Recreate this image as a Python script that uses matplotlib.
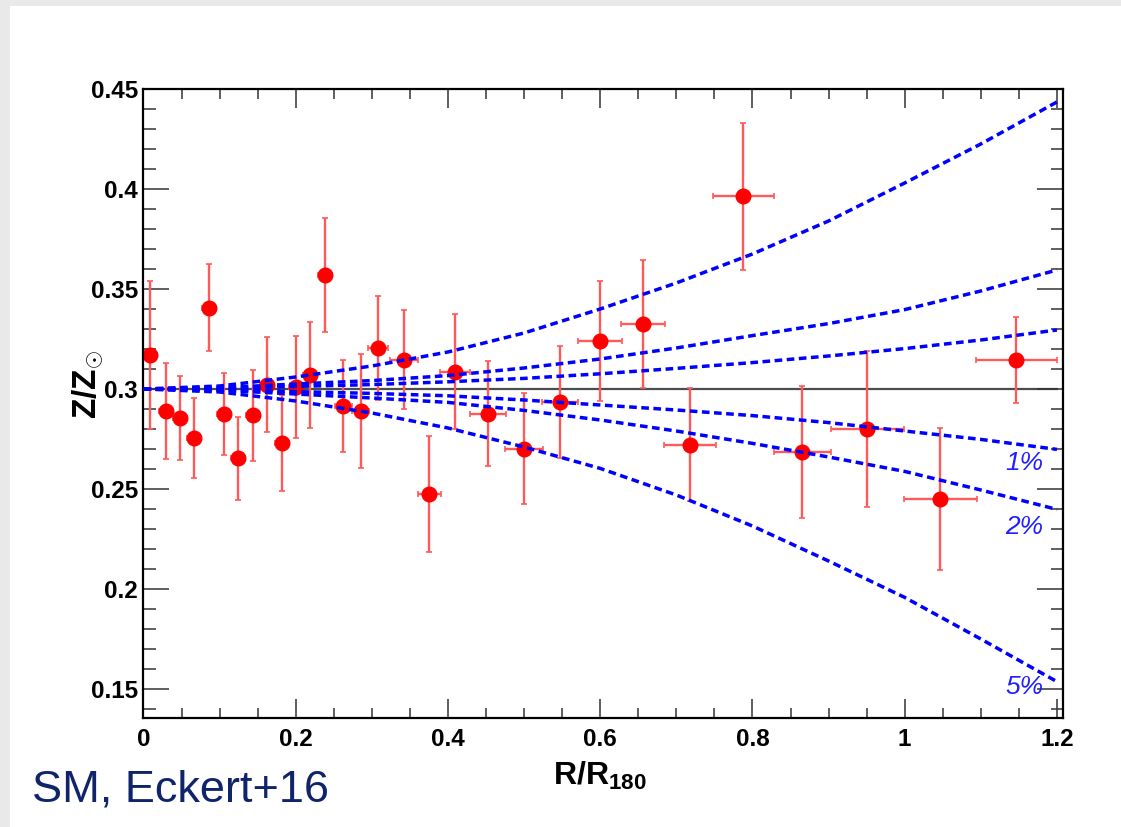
import matplotlib
matplotlib.use("Agg")
import matplotlib.pyplot as plt
from matplotlib.ticker import MultipleLocator
from matplotlib.patches import Rectangle

plt.rcParams["font.family"] = ["Liberation Sans", "DejaVu Sans"]
plt.rcParams["mathtext.fontset"] = "custom"
plt.rcParams["mathtext.rm"] = "Liberation Sans"
plt.rcParams["mathtext.bf"] = "Liberation Sans:bold"
plt.rcParams["mathtext.it"] = "Liberation Sans:italic"

# Профиль металличности (точки)
r = [0.0088, 0.0296, 0.048, 0.0668, 0.0861, 0.1058, 0.1238, 0.1435, 0.1619, 0.1816,
     0.2, 0.2188, 0.2385, 0.2626, 0.2854, 0.3085, 0.3423, 0.3756, 0.4093, 0.4523,
     0.5, 0.5473, 0.5999, 0.656, 0.7181, 0.7878, 0.8657, 0.9511, 1.0466, 1.1465]
z = [0.317, 0.289, 0.2855, 0.2753, 0.3407, 0.2874, 0.2654, 0.2868, 0.3022, 0.2731,
     0.301, 0.3068, 0.357, 0.2915, 0.289, 0.3205, 0.3147, 0.2475, 0.3087, 0.2877,
     0.2701, 0.2935, 0.324, 0.3323, 0.2722, 0.3963, 0.2683, 0.28, 0.2449, 0.3143]
z_err = [0.0368, 0.024, 0.0209, 0.02, 0.0216, 0.0204, 0.0208, 0.0228, 0.0236, 0.0239,
         0.0257, 0.0265, 0.0287, 0.0228, 0.0284, 0.0261, 0.0246, 0.029, 0.0287, 0.0264,
         0.0277, 0.0282, 0.0302, 0.032, 0.0281, 0.0368, 0.033, 0.0388, 0.0354, 0.0215]
r_err = [0.009] * 13 + [0.011, 0.011, 0.013, 0.018, 0.015, 0.02, 0.024,
                        0.0245, 0.024, 0.029, 0.029, 0.034, 0.04, 0.038, 0.048, 0.048, 0.053]

# Кривые 1%, 2%, 5%
r_curve = [0, 0.1, 0.2, 0.3, 0.4, 0.5, 0.6, 0.7, 0.8, 0.9, 1.0, 1.1, 1.2]
up_5 = [0.300, 0.3015, 0.306, 0.3115, 0.3185, 0.328, 0.340, 0.353, 0.3675, 0.384, 0.403, 0.4225, 0.4435]
dn_5 = [0.300, 0.2985, 0.294, 0.288, 0.2805, 0.271, 0.2603, 0.247, 0.2315, 0.214, 0.1958, 0.175, 0.1537]
up_2 = [0.300, 0.3006, 0.3025, 0.3042, 0.3067, 0.3105, 0.315, 0.3205, 0.3267, 0.3327, 0.3397, 0.349, 0.3595]
dn_2 = [0.300, 0.2994, 0.2975, 0.2955, 0.2933, 0.2893, 0.2845, 0.279, 0.2728, 0.266, 0.2588, 0.2495, 0.2398]
up_1 = [0.300, 0.3003, 0.3013, 0.3022, 0.3036, 0.3053, 0.3076, 0.3103, 0.3132, 0.3165, 0.3202, 0.3245, 0.3295]
dn_1 = [0.300, 0.2997, 0.2987, 0.2978, 0.2966, 0.2945, 0.2920, 0.2895, 0.2867, 0.2832, 0.279, 0.2748, 0.2698]

fig = plt.figure(figsize=(11.21, 8.27), dpi=100, facecolor="#e9e9e9")
fig.patches.append(Rectangle((10 / 1121, 0), 1, 1 - 6 / 827, transform=fig.transFigure,
                             facecolor="white", edgecolor="none", zorder=-10))

ax = fig.add_axes([0.128, 0.1318, 0.82, 0.7606])
ax.set_xlim(0, 1.2076)
ax.set_ylim(0.1355, 0.45)

ax.plot([0, 1.2], [0.3, 0.3], color="#4d4d4d", lw=1.6, zorder=1)

ax.errorbar(r, z, yerr=z_err, xerr=r_err, fmt="o", color="#ff0000", ms=10.5,
            ecolor="#ff5a5a", elinewidth=1.7, capsize=2.5, capthick=1.2, zorder=2)

for c in [up_5, dn_5, up_2, dn_2, up_1, dn_1]:
    ax.plot(r_curve, c, color="#0000ff", lw=2.5, ls=(0, (2.2, 1.3)), zorder=3)

for txt, yy in [("1%", 0.263), ("2%", 0.231), ("5%", 0.151)]:
    ax.text(1.182, yy, txt, color="#2020ff", fontsize=19, style="italic",
            ha="right", va="center")

ax.xaxis.set_major_locator(MultipleLocator(0.2))
ax.xaxis.set_minor_locator(MultipleLocator(0.05))
ax.yaxis.set_major_locator(MultipleLocator(0.05))
ax.yaxis.set_minor_locator(MultipleLocator(0.01))
ax.xaxis.set_major_formatter(matplotlib.ticker.FuncFormatter(lambda v, p: f"{v:g}"))
ax.yaxis.set_major_formatter(matplotlib.ticker.FuncFormatter(lambda v, p: f"{v:g}"))

ax.tick_params(axis="both", which="both", direction="in", top=True, right=True,
               color="#333333", width=1.1)
ax.tick_params(axis="x", which="major", length=13.5, pad=7)
ax.tick_params(axis="x", which="minor", length=7)
ax.tick_params(axis="y", which="major", length=18.5, pad=4)
ax.tick_params(axis="y", which="minor", length=9)
for lbl in ax.get_xticklabels() + ax.get_yticklabels():
    lbl.set_fontweight("bold")
    lbl.set_fontsize(17.5)
for s in ax.spines.values():
    s.set_linewidth(1.6)

ax.set_xlabel(r"$\mathbf{R/R_{180}}$", fontsize=23)
ax.xaxis.set_label_coords(0.497, -0.066)
ax.set_ylabel(r"$\mathbf{Z/Z_{\odot}}$", fontsize=24)
ax.yaxis.set_label_coords(-0.041, 0.53)

fig.text(32 / 1121, 1 - 790 / 827, "SM, Eckert+16", color="#10246a", fontsize=32.5,
         ha="left", va="center")

fig.savefig("out.png", dpi=100, facecolor=fig.get_facecolor())
